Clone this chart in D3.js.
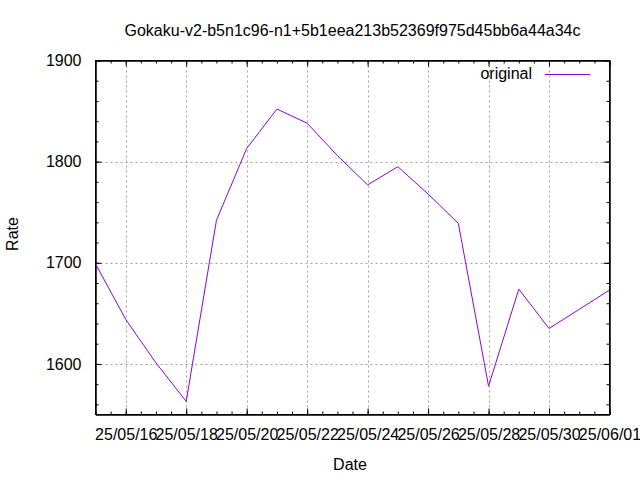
<!DOCTYPE html>
<html>
<head>
<meta charset="utf-8">
<script src="https://cdn.jsdelivr.net/npm/d3@7"></script>
<style>
  html, body { margin: 0; padding: 0; background: #fff; }
  svg { display: block; }
  text { font-family: "Liberation Sans", Arial, sans-serif; font-size: 16px; fill: #000; }
</style>
</head>
<body>
<svg id="chart" width="640" height="480"></svg>
<script>
const title = "Gokaku-v2-b5n1c96-n1+5b1eea213b52369f975d45bb6a44a34c";
const seriesName = "original";
const dates = ["2025-05-15","2025-05-16","2025-05-17","2025-05-18","2025-05-19","2025-05-20",
               "2025-05-21","2025-05-22","2025-05-23","2025-05-24","2025-05-25","2025-05-26",
               "2025-05-27","2025-05-28","2025-05-29","2025-05-30","2025-05-31","2025-06-01"];
const rates = [1699,1644,1601,1563,1742,1813,1852,1838,1806,1777,1795,1768,1739,1578,1674,1635,1654,1673];
const xDomain = ["2025-05-15","2025-06-01"];
const yDomain = [1550, 1900];
const yTicks = [1600, 1700, 1800, 1900];
const xTickDates = ["2025-05-16","2025-05-18","2025-05-20","2025-05-22","2025-05-24","2025-05-26","2025-05-28","2025-05-30","2025-06-01"];

const parse = d3.utcParse("%Y-%m-%d");
const fmt = d3.utcFormat("%y/%m/%d");
const data = dates.map((d, i) => ({ date: parse(d), rate: rates[i] }));

const L = 95.5, R = 609.5, T = 60.5, B = 414.5;
const svg = d3.select("#chart");
svg.append("rect").attr("width", 640).attr("height", 480).attr("fill", "#fff");

const x = d3.scaleUtc().domain(xDomain.map(parse)).range([L, R]);
const y = d3.scaleLinear().domain(yDomain).range([B, T]);

const xMajor = xTickDates.map(parse);
const xMinor = d3.utcHour.every(12).range(x.domain()[0], d3.utcHour.offset(x.domain()[1], 1));
const yMinor = d3.range(yDomain[0] + 10, yDomain[1] + 1, 20).filter(v => v > yDomain[0]);

// Grid
const grid = svg.append("g").attr("stroke", "#a0a0a0").attr("stroke-dasharray", "2,3").attr("stroke-width", 1);
xMajor.filter(d => x(d) > L + 1 && x(d) < R - 1).forEach(d => {
  grid.append("line").attr("x1", Math.round(x(d)) + 0.5).attr("x2", Math.round(x(d)) + 0.5).attr("y1", T).attr("y2", B);
});
yTicks.filter(v => y(v) > T + 1 && y(v) < B - 1).forEach(v => {
  grid.append("line").attr("x1", L).attr("x2", R).attr("y1", Math.round(y(v)) + 0.5).attr("y2", Math.round(y(v)) + 0.5);
});

// Axes with inward ticks
function styleAxis(g) {
  g.selectAll(".domain").attr("stroke", "#000");
  g.selectAll(".tick line").attr("stroke", "#000");
}
const axB = svg.append("g").attr("transform", `translate(0,${B})`)
  .call(d3.axisBottom(x).tickValues(xMajor).tickFormat(fmt).tickSizeInner(-6).tickSizeOuter(0).tickPadding(14));
styleAxis(axB);
const axBm = svg.append("g").attr("transform", `translate(0,${B})`)
  .call(d3.axisBottom(x).tickValues(xMinor).tickFormat("").tickSizeInner(-3).tickSizeOuter(0));
styleAxis(axBm);
const axT = svg.append("g").attr("transform", `translate(0,${T})`)
  .call(d3.axisTop(x).tickValues(xMajor).tickFormat("").tickSizeInner(-6).tickSizeOuter(0));
styleAxis(axT);
const axTm = svg.append("g").attr("transform", `translate(0,${T})`)
  .call(d3.axisTop(x).tickValues(xMinor).tickFormat("").tickSizeInner(-3).tickSizeOuter(0));
styleAxis(axTm);

const axLeft = svg.append("g").attr("transform", `translate(${L},0)`)
  .call(d3.axisLeft(y).tickValues(yTicks).tickFormat(d3.format("d")).tickSizeInner(-6).tickSizeOuter(0).tickPadding(14));
styleAxis(axLeft);
const axLm = svg.append("g").attr("transform", `translate(${L},0)`)
  .call(d3.axisLeft(y).tickValues(yMinor).tickFormat("").tickSizeInner(-3).tickSizeOuter(0));
styleAxis(axLm);
const axRt = svg.append("g").attr("transform", `translate(${R},0)`)
  .call(d3.axisRight(y).tickValues(yTicks).tickFormat("").tickSizeInner(-6).tickSizeOuter(0));
styleAxis(axRt);
const axRm = svg.append("g").attr("transform", `translate(${R},0)`)
  .call(d3.axisRight(y).tickValues(yMinor).tickFormat("").tickSizeInner(-3).tickSizeOuter(0));
styleAxis(axRm);

svg.selectAll(".tick text")
  .attr("font-family", '"Liberation Sans", Arial, sans-serif')
  .attr("font-size", 16).attr("fill", "#000");

// Line
const line = d3.line().x(d => x(d.date)).y(d => y(d.rate));
svg.append("path").datum(data).attr("d", line)
  .attr("fill", "none").attr("stroke", "#9400d3").attr("stroke-width", 1);

// Border
svg.append("rect").attr("x", L).attr("y", T).attr("width", R - L).attr("height", B - T)
  .attr("fill", "none").attr("stroke", "#000").attr("stroke-width", 1);

// Titles
svg.append("text").attr("x", (L + R) / 2).attr("y", 36).attr("text-anchor", "middle").text(title);
svg.append("text").attr("x", 350).attr("y", 470).attr("text-anchor", "middle").text("Date");
svg.append("text").attr("transform", "translate(18,234) rotate(-90)").attr("text-anchor", "middle").text("Rate");

// Legend
svg.append("text").attr("x", 532).attr("y", 79).attr("text-anchor", "end").text(seriesName);
svg.append("line").attr("x1", 545).attr("x2", 590).attr("y1", 74.5).attr("y2", 74.5)
  .attr("stroke", "#9400d3").attr("stroke-width", 1);
</script>
</body>
</html>
